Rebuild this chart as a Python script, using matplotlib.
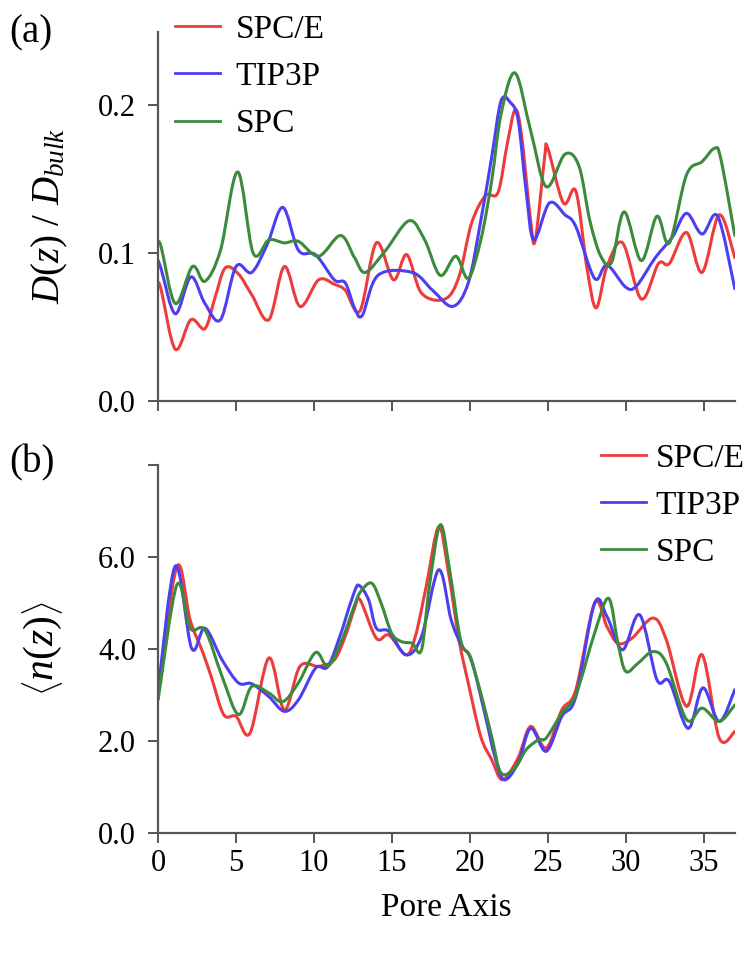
import matplotlib
matplotlib.use("Agg")
import matplotlib.pyplot as plt
import numpy as np
from matplotlib.path import Path
from matplotlib.patches import PathPatch

plt.rcParams['font.family'] = ['Liberation Serif', 'DejaVu Serif']
plt.rcParams['mathtext.fontset'] = 'custom'
plt.rcParams['mathtext.rm'] = 'Liberation Serif'
plt.rcParams['mathtext.it'] = 'Liberation Serif:italic'

# ---- data ----
labels = ['SPC/E', 'TIP3P', 'SPC']
colors = ['#ee3b3b', '#4c3ff2', '#3c8a3c']

# (a) D(z)/D_bulk
top_spce_z = [0, 0.2, 1.1, 2.1, 3.0, 3.65, 4.3, 5.15, 6.0, 7.1, 8.1, 9.1, 10.3, 11.3, 12.0,
              12.95, 14.0, 15.1, 15.95, 16.9, 18.4, 19.3, 20.1, 21.0, 21.8, 22.4, 22.9, 23.3,
              23.9, 24.2, 24.8, 25.0, 26.0, 26.8, 27.5, 28.1, 28.8, 29.8, 31.0, 32.1, 32.8,
              33.9, 34.9, 36.0, 37.0]
top_spce = [0.080, 0.075, 0.035, 0.055, 0.049, 0.070, 0.090, 0.086, 0.072, 0.055, 0.091, 0.064,
            0.082, 0.079, 0.075, 0.061, 0.107, 0.082, 0.099, 0.073, 0.069, 0.084, 0.120, 0.139,
            0.141, 0.174, 0.197, 0.181, 0.122, 0.109, 0.165, 0.171, 0.134, 0.142, 0.091, 0.063,
            0.091, 0.107, 0.069, 0.093, 0.093, 0.114, 0.087, 0.126, 0.097]

top_tip3p_z = [0, 0.2, 1.1, 2.1, 3.0, 4.0, 5.0, 6.0, 7.0, 8.0, 9.0, 10.1, 11.3, 12.0, 12.6,
               13.1, 14.1, 16.3, 17.6, 18.9, 19.9, 20.7, 21.4, 22.0, 22.6, 23.1, 23.6, 24.1,
               25.1, 26.1, 26.8, 28.0, 28.8, 30.0, 30.7, 31.9, 33.0, 33.9, 34.9, 35.9, 37.0]
top_tip3p = [0.095, 0.089, 0.059, 0.084, 0.066, 0.055, 0.091, 0.087, 0.106, 0.131, 0.102, 0.099,
             0.082, 0.080, 0.063, 0.058, 0.085, 0.087, 0.075, 0.064, 0.080, 0.122, 0.165, 0.203,
             0.202, 0.190, 0.143, 0.109, 0.134, 0.126, 0.118, 0.083, 0.092, 0.077, 0.078, 0.097,
             0.111, 0.127, 0.113, 0.125, 0.076]

top_spc_z = [0, 0.2, 1.1, 2.2, 3.0, 4.0, 5.1, 6.1, 7.1, 8.1, 9.0, 10.3, 11.7, 12.6, 13.3, 14.6,
             16.1, 17.1, 18.1, 19.1, 19.9, 20.7, 21.4, 22.0, 22.9, 23.9, 24.9, 26.1, 27.0, 27.7,
             28.4, 29.1, 29.9, 31.0, 32.0, 32.8, 33.9, 34.9, 35.7, 36.1, 37.0]
top_spc = [0.107, 0.104, 0.066, 0.091, 0.081, 0.102, 0.155, 0.100, 0.109, 0.107, 0.108, 0.098,
           0.112, 0.097, 0.087, 0.102, 0.122, 0.109, 0.085, 0.098, 0.083, 0.109, 0.149, 0.194,
           0.222, 0.183, 0.145, 0.167, 0.159, 0.122, 0.098, 0.094, 0.128, 0.095, 0.125, 0.107,
           0.153, 0.162, 0.171, 0.164, 0.112]

# (b) <n(z)>
bot_spce_z = [0, 1.2, 2.05, 2.8, 3.4, 4.2, 5.0, 5.9, 7.1, 8.1, 9.1, 10.3, 11.3, 12.0, 12.6, 12.95,
              14.0, 14.8, 15.9, 16.5, 17.2, 18.0, 18.6, 19.3, 19.9, 20.7, 21.4, 22.1, 23.1, 23.9,
              24.9, 25.9, 26.8, 28.0, 28.8, 29.5, 30.4, 31.75, 32.6, 33.9, 34.9, 36.0, 37.0]
bot_spce = [3.0, 5.79, 4.63, 3.98, 3.40, 2.57, 2.53, 2.17, 3.80, 2.67, 3.62, 3.62, 3.76, 4.27,
            4.88, 5.07, 4.23, 4.30, 3.87, 4.27, 5.36, 6.66, 5.72, 4.20, 3.25, 2.09, 1.59, 1.15,
            1.63, 2.31, 1.84, 2.67, 3.11, 4.99, 4.48, 4.12, 4.23, 4.67, 4.20, 2.75, 3.87, 2.06, 2.20]

bot_tip3p_z = [0, 1.1, 2.15, 3.0, 4.1, 5.15, 6.0, 7.1, 8.1, 9.0, 10.1, 10.9, 11.8, 12.0, 12.6,
               12.9, 13.5, 14.0, 14.8, 15.9, 16.9, 18.0, 18.8, 19.5, 20.1, 21.0, 21.6, 22.2, 23.1,
               23.9, 24.9, 25.9, 26.8, 28.0, 28.8, 29.8, 30.9, 32.0, 32.8, 34.0, 34.95, 36.0, 37.0]
bot_tip3p = [3.1, 5.80, 4.01, 4.45, 3.76, 3.26, 3.24, 2.96, 2.64, 2.89, 3.58, 3.62, 4.41, 4.63,
             5.25, 5.38, 5.07, 4.45, 4.38, 3.87, 4.27, 5.72, 4.63, 4.05, 3.76, 2.53, 1.66, 1.15,
             1.52, 2.27, 1.77, 2.53, 2.96, 4.99, 4.70, 3.98, 4.74, 3.33, 3.29, 2.27, 3.15, 2.42, 3.11]

bot_spc_z = [0, 1.2, 2.05, 3.0, 4.1, 5.15, 6.0, 7.1, 8.0, 9.0, 10.1, 10.9, 11.8, 12.6, 13.0, 13.7,
             14.3, 14.98, 15.6, 16.3, 16.9, 17.4, 18.1, 18.7, 19.4, 20.0, 20.7, 21.4, 22.0, 22.9,
             23.6, 24.4, 24.9, 25.9, 26.8, 28.0, 28.9, 29.5, 30.0, 30.8, 31.75, 32.6, 33.9, 34.9,
             36.0, 37.0]
bot_spc = [2.9, 5.39, 4.45, 4.41, 3.40, 2.57, 3.18, 3.04, 2.85, 3.26, 3.92, 3.62, 4.20, 4.95, 5.25,
           5.43, 5.00, 4.34, 4.16, 4.12, 3.98, 5.36, 6.70, 5.72, 4.20, 3.83, 3.04, 2.09, 1.30, 1.41,
           1.80, 2.02, 2.06, 2.60, 3.00, 4.34, 5.10, 4.12, 3.51, 3.69, 3.94, 3.69, 2.46, 2.71,
           2.42, 2.78]

x_ticks = [0, 5, 10, 15, 20, 25, 30, 35]


def smooth_path(z, v):
    # smoothed line (like a spreadsheet "smoothed line") through the points, as bezier segments
    p = np.column_stack([z, v]).astype(float)
    verts = [p[0]]
    codes = [Path.MOVETO]
    n = len(p)
    for i in range(n - 1):
        p0 = p[i - 1] if i > 0 else p[i]
        p3 = p[i + 2] if i + 2 < n else p[i + 1]
        c1 = p[i] + (p[i + 1] - p0) / 6.0
        c2 = p[i + 1] - (p3 - p[i]) / 6.0
        verts += [c1, c2, p[i + 1]]
        codes += [Path.CURVE4] * 3
    return Path(verts, codes)


fig = plt.figure(figsize=(7.46, 9.57), dpi=100)
ax1 = fig.add_axes([0.212, 0.581, 0.773, 0.386])
ax2 = fig.add_axes([0.212, 0.130, 0.773, 0.384])

top_series = [(top_spce_z, top_spce), (top_tip3p_z, top_tip3p), (top_spc_z, top_spc)]
bot_series = [(bot_spce_z, bot_spce), (bot_tip3p_z, bot_tip3p), (bot_spc_z, bot_spc)]

for ax, series in ((ax1, top_series), (ax2, bot_series)):
    for (z, v), c, lab in zip(series, colors, labels):
        ax.add_patch(PathPatch(smooth_path(z, v), facecolor='none', edgecolor=c, lw=2.2,
                               joinstyle='round', capstyle='round'))
        ax.plot([], [], color=c, lw=2, label=lab)

for ax in (ax1, ax2):
    ax.set_xlim(0, 37)
    ax.set_xticks(x_ticks)
    for s in ('top', 'right'):
        ax.spines[s].set_visible(False)
    for s in ('left', 'bottom'):
        ax.spines[s].set_color('#555555')
        ax.spines[s].set_linewidth(1.6)
    ax.tick_params(direction='out', length=7, width=1.4, color='#555555', labelsize=22)
    ax.tick_params(axis='y', pad=9)

ax1.set_ylim(0, 0.25)
ax1.set_yticks([0, 0.1, 0.2])
ax1.set_yticklabels(['0.0', '0.1', '0.2'])
ax1.set_xticklabels([])
ax1.set_ylabel(r'$D(z)\ /\ D_{bulk}$', fontsize=28, labelpad=20)

ax2.set_ylim(0, 8)
ax2.set_yticks([0, 2, 4, 6, 8])
ax2.set_yticklabels(['0.0', '2.0', '4.0', '6.0', ''])
ax2.tick_params(axis='x', pad=5)
ax2.set_ylabel(r'$\left\langle n(z) \right\rangle$', fontsize=30, labelpad=24)
ax2.set_xlabel('Pore Axis', fontsize=24, labelpad=10)

ax1.legend(loc='upper left', bbox_to_anchor=(0.235, 0.985), bbox_transform=fig.transFigure,
           frameon=False, fontsize=24, handlelength=1.35, handletextpad=0.45,
           labelspacing=0.5, borderpad=0, borderaxespad=0)
ax2.legend(loc='upper left', bbox_to_anchor=(0.805, 0.537), bbox_transform=fig.transFigure,
           frameon=False, fontsize=24, handlelength=1.35, handletextpad=0.3,
           labelspacing=0.5, borderpad=0, borderaxespad=0)

fig.text(0.012, 0.985, '(a)', fontsize=28, ha='left', va='top')
fig.text(0.012, 0.536, '(b)', fontsize=28, ha='left', va='top')

fig.savefig('out.png', dpi=100)
